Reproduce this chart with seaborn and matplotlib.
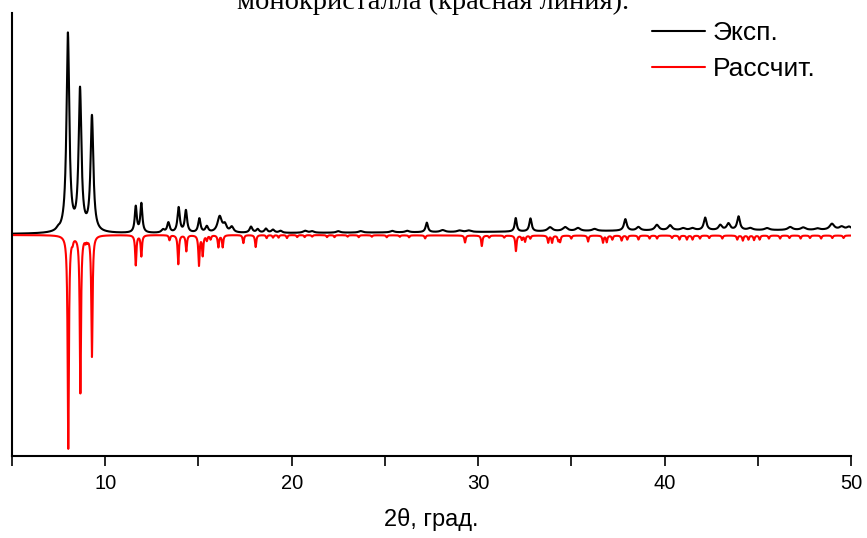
import numpy as np
import pandas as pd
import matplotlib
matplotlib.use("Agg")
import matplotlib.pyplot as plt
import seaborn as sns

# experimental pattern: peak positions (2theta, deg), heights, widths (FWHM, deg)
exp_pos = [7.47, 8.00, 8.65, 9.29, 11.64, 11.94, 13.1, 13.39, 13.94, 14.33, 15.05, 15.45,
           16.14, 16.42, 16.79, 17.82, 18.18, 18.62, 19.0, 19.4, 20.72, 21.1, 22.5, 23.7,
           25.4, 26.2, 27.25, 28.1, 29.0, 29.5, 32.02, 32.81, 33.86, 34.67, 35.36, 36.25,
           37.9, 38.6, 39.59, 40.3, 41.0, 41.5, 42.18, 42.99, 43.43, 43.97, 44.6, 45.5,
           46.74, 47.44, 48.2, 48.98, 49.5, 49.9]
exp_height = [2, 198, 141, 115, 26, 29, 3, 10, 25, 22, 14, 6,
              16, 7, 5.5, 6, 3.5, 4, 3, 2, 2, 1.5, 1.5, 1.5,
              1.5, 1.5, 9.5, 2, 1.5, 1.5, 13.5, 13, 4, 4, 3, 2,
              11.5, 3.5, 5.5, 5, 2, 2, 12.5, 5, 6.5, 13.5, 2, 2,
              3, 2.5, 1.5, 6, 3, 3]
exp_width = [0.2, 0.18, 0.18, 0.18, 0.13, 0.13, 0.2, 0.16, 0.15, 0.15, 0.15, 0.18,
             0.28, 0.22, 0.22, 0.18, 0.18, 0.18, 0.2, 0.2, 0.25, 0.25, 0.25, 0.25,
             0.25, 0.25, 0.15, 0.3, 0.3, 0.3, 0.13, 0.15, 0.3, 0.3, 0.3, 0.3,
             0.18, 0.25, 0.25, 0.25, 0.3, 0.3, 0.18, 0.22, 0.22, 0.18, 0.3, 0.3,
             0.3, 0.3, 0.3, 0.3, 0.3, 0.3]
exp_bg_x = [5, 10, 20, 30, 40, 50]
exp_bg_y = [1, 1.5, 2, 3, 4.5, 5]

# calculated pattern (drawn downward)
calc_pos = [8.02, 8.25, 8.67, 8.95, 9.05, 9.29, 11.64, 11.94, 13.45, 13.92, 14.35, 15.03,
            15.23, 15.45, 15.65, 16.07, 16.3, 17.41, 18.07, 18.66, 19.0, 19.3, 19.75,
            20.3, 20.7, 21.1, 21.9, 22.3, 23.0, 23.6, 24.3, 25.1, 25.8, 26.3, 27.16,
            29.3, 30.2, 30.6, 31.4, 32.03, 32.35, 32.52, 32.8, 33.76, 33.97, 34.3, 34.4,
            35.0, 35.9, 36.7, 36.9, 37.2, 37.7, 38.0, 38.6, 39.2, 39.6, 40.4, 40.8,
            41.2, 41.5, 41.9, 42.4, 43.1, 43.9, 44.2, 44.5, 44.8, 45.1, 45.6, 46.2,
            46.7, 47.3, 47.8, 48.4, 49.0, 49.6]
calc_depth = [213, 4, 157, 4, 3, 121, 30, 21, 5, 29, 16, 30,
              20, 5, 4, 12, 12, 8, 12, 3, 2.5, 2.5, 3,
              2, 2, 1.5, 2, 2, 1.5, 2, 1.5, 2, 1.5, 2, 3,
              7, 10.5, 2, 2, 15.5, 4, 6, 3, 7, 7, 5, 6,
              3, 6, 7, 6.5, 4, 5, 4, 4, 3, 3, 2.5, 4,
              4, 4, 3, 2.5, 3, 4, 5, 4, 4.5, 4, 3, 3,
              2.5, 3, 2.5, 3, 2.5, 2.5]
calc_width = 0.08
calc_bg_x = [5, 10, 20, 30, 40, 50]
calc_bg_y = [0, 0, 0, -0.5, -0.5, -0.5]

two_theta = np.arange(5, 50.001, 0.005)


def profile(x, pos, height, width):
    y = np.zeros_like(x)
    width = np.broadcast_to(width, len(pos))
    for p, h, w in zip(pos, height, width):
        y += h / (1 + ((x - p) / (w / 2)) ** 2)
    return y


exp_y = np.interp(two_theta, exp_bg_x, exp_bg_y) + profile(two_theta, exp_pos, exp_height, exp_width)
calc_y = np.interp(two_theta, calc_bg_x, calc_bg_y) - profile(two_theta, calc_pos, calc_depth, calc_width)

df = pd.concat([
    pd.DataFrame({"x": two_theta, "y": exp_y, "series": "Эксп."}),
    pd.DataFrame({"x": two_theta, "y": calc_y, "series": "Рассчит."}),
])

sns.set_style("ticks", {"axes.edgecolor": "black", "text.color": "black",
                        "xtick.color": "black", "axes.labelcolor": "black"})
plt.rcParams["font.family"] = ["Liberation Sans", "DejaVu Sans"]

fig = plt.figure(figsize=(8.67, 5.38), dpi=100)
ax = fig.add_axes([0.0138, 0.1524, 0.9677, 0.8234])

sns.lineplot(data=df, x="x", y="y", hue="series", palette={"Эксп.": "black", "Рассчит.": "red"},
             estimator=None, sort=False, linewidth=1.5, ax=ax)

ax.set_xlim(5, 50)
ax.set_ylim(-221, 222)
ax.set_xticks([5, 10, 15, 20, 25, 30, 35, 40, 45, 50])
ax.set_xticklabels(["", "10", "", "20", "", "30", "", "40", "", "50"])
ax.set_yticks([])
ax.tick_params(axis="x", direction="out", length=7, width=1.2, labelsize=14.5, pad=6,
               colors="black")
for s in ["top", "right"]:
    ax.spines[s].set_visible(False)
for s in ["left", "bottom"]:
    ax.spines[s].set_linewidth(1.5)
    ax.spines[s].set_color("black")
ax.set_ylabel("")
ax.set_xlabel("2θ, град.", fontsize=17, labelpad=11, color="black")

ax.legend(loc="upper left", bbox_to_anchor=(0.735, 1.035), frameon=False, fontsize=19,
          handlelength=2.0, handletextpad=0.3, labelspacing=0.45, labelcolor="black")

fig.text(0.5, 0.983, "монокристалла (красная линия).", ha="center", va="baseline",
         fontsize=20.5, color="black", family=["Liberation Serif", "DejaVu Serif"])

fig.savefig("out.png", dpi=100)
